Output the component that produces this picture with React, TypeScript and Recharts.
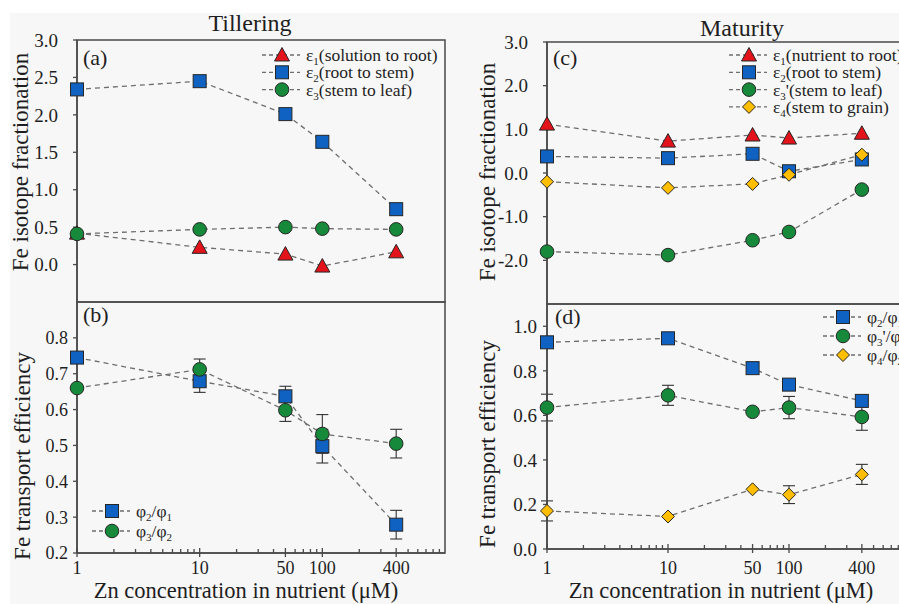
import React from "react";
import { ErrorBar, Line, LineChart, ReferenceArea, XAxis, YAxis } from "recharts";

const FONT = '"Liberation Serif", serif';
const AXIS = "#4a4a4a";
const DASH_LINE = "#6e6e6e";
const TEXT = "#1e1e1e";

const RED = "#e3131b";
const BLUE = "#0f62c2";
const GREEN = "#168a3a";
const YELLOW = "#ffbf00";

// Zn concentration levels (µM)
const znLevels = [1, 10, 50, 100, 400];
const xTickLabels = [1, 10, 50, 100, 400];
const xMinorTicks = [2, 3, 4, 5, 6, 7, 8, 9, 20, 30, 40, 60, 70, 80, 90, 200, 300, 500, 600, 700, 800, 900];

// (a) tillering, isotope fractionation
const tillerEps1 = [0.42, 0.23, 0.14, -0.02, 0.17];
const tillerEps2 = [2.34, 2.45, 2.01, 1.64, 0.74];
const tillerEps3 = [0.41, 0.47, 0.5, 0.48, 0.47];

// (b) tillering, transport efficiency
const tillerPhi21 = [0.745, 0.679, 0.637, 0.498, 0.279];
const tillerPhi21Err = [0, 0.031, 0.028, 0.047, 0.04];
const tillerPhi32 = [0.66, 0.712, 0.598, 0.532, 0.505];
const tillerPhi32Err = [0, 0.029, 0.031, 0.054, 0.04];

// (c) maturity, isotope fractionation
const matEps1 = [1.12, 0.73, 0.87, 0.8, 0.91];
const matEps2 = [0.38, 0.34, 0.44, 0.04, 0.31];
const matEps3 = [-1.8, -1.88, -1.54, -1.35, -0.38];
const matEps4 = [-0.2, -0.34, -0.25, -0.04, 0.42];

// (d) maturity, transport efficiency
const matPhi21 = [0.928, 0.946, 0.812, 0.738, 0.665];
const matPhi32 = [0.635, 0.69, 0.616, 0.635, 0.593];
const matPhi32Err = [0.06, 0.045, 0, 0.05, 0.06];
const matPhi42 = [0.171, 0.146, 0.268, 0.244, 0.335];
const matPhi42Err = [0.045, 0, 0, 0.04, 0.045];

const tickA = [0, 0.5, 1, 1.5, 2, 2.5, 3];
const tickB = [0.2, 0.3, 0.4, 0.5, 0.6, 0.7, 0.8];
const tickC = [-2, -1, 0, 1, 2, 3];
const tickD = [0, 0.2, 0.4, 0.6, 0.8, 1];

type Shape = "triangle" | "square" | "circle" | "diamond";

// label parts: even index = normal text, odd index = subscript
const legendA = [
  { shape: "triangle" as Shape, fill: RED, parts: ["ε", "1", "(solution to root)"] },
  { shape: "square" as Shape, fill: BLUE, parts: ["ε", "2", "(root to stem)"] },
  { shape: "circle" as Shape, fill: GREEN, parts: ["ε", "3", "(stem to leaf)"] }
];
const legendB = [
  { shape: "square" as Shape, fill: BLUE, parts: ["φ", "2", "/φ", "1"] },
  { shape: "circle" as Shape, fill: GREEN, parts: ["φ", "3", "/φ", "2"] }
];
const legendC = [
  { shape: "triangle" as Shape, fill: RED, parts: ["ε", "1", "(nutrient to root)"] },
  { shape: "square" as Shape, fill: BLUE, parts: ["ε", "2", "(root to stem)"] },
  { shape: "circle" as Shape, fill: GREEN, parts: ["ε", "3", "'(stem to leaf)"] },
  { shape: "diamond" as Shape, fill: YELLOW, parts: ["ε", "4", "(stem to grain)"] }
];
const legendD = [
  { shape: "square" as Shape, fill: BLUE, parts: ["φ", "2", "/φ", "1"] },
  { shape: "circle" as Shape, fill: GREEN, parts: ["φ", "3", "'/φ", "2"] },
  { shape: "diamond" as Shape, fill: YELLOW, parts: ["φ", "4", "/φ", "2"] }
];

const tillerRows = znLevels.map((zn, i) => ({
  zn,
  eps1: tillerEps1[i],
  eps2: tillerEps2[i],
  eps3: tillerEps3[i],
  phi21: tillerPhi21[i],
  phi21Err: tillerPhi21Err[i],
  phi32: tillerPhi32[i],
  phi32Err: tillerPhi32Err[i]
}));

const matRows = znLevels.map((zn, i) => ({
  zn,
  eps1: matEps1[i],
  eps2: matEps2[i],
  eps3: matEps3[i],
  eps4: matEps4[i],
  phi21: matPhi21[i],
  phi32: matPhi32[i],
  phi32Err: matPhi32Err[i],
  phi42: matPhi42[i],
  phi42Err: matPhi42Err[i]
}));

const Marker = ({ cx, cy, shape, fill }: { cx: number; cy: number; shape: Shape; fill: string }) => {
  const common = { fill, stroke: "#262626", strokeWidth: 1 };
  if (shape === "square") return <rect x={cx - 6.5} y={cy - 6.5} width={13} height={13} {...common} />;
  if (shape === "circle") return <circle cx={cx} cy={cy} r={6.8} {...common} />;
  if (shape === "triangle")
    return <polygon points={`${cx},${cy - 7.5} ${cx - 7.5},${cy + 6} ${cx + 7.5},${cy + 6}`} {...common} />;
  return <polygon points={`${cx},${cy - 6.5} ${cx + 6.5},${cy} ${cx},${cy + 6.5} ${cx - 6.5},${cy}`} {...common} />;
};

const dotFor = (shape: Shape, fill: string) => (props: any) => {
  if (props.cx == null || props.cy == null) return <g key={`e-${props.index}`} />;
  return (
    <g key={`${shape}-${props.index}`}>
      <Marker cx={props.cx} cy={props.cy} shape={shape} fill={fill} />
    </g>
  );
};

// log axis tick: labelled ticks cross the axis, minor ticks point inward
const LogTick = (props: any) => {
  const { x, y, payload, labelDy } = props;
  const v = payload.value;
  const labeled = xTickLabels.includes(v);
  return (
    <g>
      <line
        x1={x}
        x2={x}
        y1={labeled ? y + 4 : y}
        y2={labeled ? y - 5 : y - 4}
        stroke={AXIS}
        strokeWidth={1.3}
      />
      {labeled && (
        <text x={x} y={y + labelDy} textAnchor="middle" fill={TEXT} fontSize={18} fontFamily={FONT}>
          {v}
        </text>
      )}
    </g>
  );
};

const seriesLine = (key: string, shape: Shape, fill: string, errKey?: string) => (
  <Line
    key={key}
    dataKey={key}
    isAnimationActive={false}
    stroke={DASH_LINE}
    strokeWidth={1.3}
    strokeDasharray="5 4"
    type="linear"
    dot={dotFor(shape, fill)}
    activeDot={false}
  >
    {errKey && <ErrorBar dataKey={errKey} width={6} stroke="#333" strokeWidth={1.1} direction="y" />}
  </Line>
);

const yAxisProps = (domain: number[], ticks: number[], margin: number, size: number) => ({
  type: "number" as const,
  domain,
  ticks,
  interval: 0 as const,
  width: 50,
  tickSize: 4,
  tickMargin: margin,
  axisLine: { stroke: AXIS, strokeWidth: 1.5 },
  tickLine: { stroke: AXIS, strokeWidth: 1.3 },
  tick: { fill: TEXT, fontSize: size, fontFamily: FONT },
  tickFormatter: (v: number) => v.toFixed(1)
});

const xAxisProps = {
  dataKey: "zn",
  type: "number" as const,
  scale: "log" as const,
  domain: [1, 1000],
  ticks: [...xTickLabels, ...xMinorTicks],
  interval: 0 as const
};

const Sub = ({ parts }: { parts: string[] }) => (
  <>
    {parts.map((p, i) =>
      i % 2 === 1 ? (
        <tspan key={i} fontSize={11} dy={4}>
          {p}
        </tspan>
      ) : (
        <tspan key={i} dy={i === 0 ? 0 : -4}>
          {p}
        </tspan>
      )
    )}
  </>
);

const LegendBlock = ({
  x,
  y,
  gap,
  items
}: {
  x: number;
  y: number;
  gap: number;
  items: { shape: Shape; fill: string; parts: string[] }[];
}) => (
  <g>
    {items.map((it, i) => {
      const ry = y + i * gap;
      return (
        <g key={i}>
          <line x1={x} x2={x + 38} y1={ry} y2={ry} stroke={DASH_LINE} strokeWidth={1.3} strokeDasharray="4 3" />
          <Marker cx={x + 20} cy={ry} shape={it.shape} fill={it.fill} />
          <text x={x + 44} y={ry + 6} fill={TEXT} fontSize={17.5} fontFamily={FONT}>
            <Sub parts={it.parts} />
          </text>
        </g>
      );
    })}
  </g>
);

const VTitle = ({ x, y, text }: { x: number; y: number; text: string }) => (
  <text
    transform={`translate(${x},${y}) rotate(-90)`}
    textAnchor="middle"
    dominantBaseline="central"
    fill={TEXT}
    fontSize={23}
    fontFamily={FONT}
  >
    {text}
  </text>
);

const boxStroke = { fill: "none", stroke: AXIS, strokeWidth: 1.5, fillOpacity: 1 };

export default function App() {
  return (
    <div
      style={{
        position: "absolute",
        left: 0,
        top: 0,
        width: 899,
        height: 604,
        overflow: "hidden",
        background: "#ffffff",
        fontFamily: FONT
      }}
    >
      <div style={{ position: "absolute", left: 10, top: 13, width: 889, height: 591, background: "#f7f7f7" }} />

      {/* (a) */}
      <div style={{ position: "absolute", left: 0, top: 0 }}>
        <LineChart width={460} height={310} data={tillerRows} margin={{ top: 40, right: 15, bottom: 8, left: 27 }}>
          <XAxis {...xAxisProps} hide />
          <YAxis {...yAxisProps([-0.5, 3], tickA, 15, 19)} />
          <ReferenceArea x1={1} x2={1000} y1={-0.5} y2={3} {...boxStroke} />
          {seriesLine("eps1", "triangle", RED)}
          {seriesLine("eps2", "square", BLUE)}
          {seriesLine("eps3", "circle", GREEN)}
        </LineChart>
      </div>

      {/* (b) */}
      <div style={{ position: "absolute", left: 0, top: 290 }}>
        <LineChart width={460} height={300} data={tillerRows} margin={{ top: 12, right: 15, bottom: 7, left: 27 }}>
          <XAxis
            {...xAxisProps}
            height={30}
            tickSize={0}
            tickMargin={0}
            tickLine={false}
            axisLine={{ stroke: AXIS, strokeWidth: 1.5 }}
            tick={(p: any) => <LogTick {...p} labelDy={21} />}
          />
          <YAxis {...yAxisProps([0.2, 0.9], tickB, 5, 18)} />
          <ReferenceArea x1={1} x2={1000} y1={0.2} y2={0.9} {...boxStroke} />
          {seriesLine("phi21", "square", BLUE, "phi21Err")}
          {seriesLine("phi32", "circle", GREEN, "phi32Err")}
        </LineChart>
      </div>

      {/* (c) */}
      <div style={{ position: "absolute", left: 450, top: 0 }}>
        <LineChart width={480} height={312} data={matRows} margin={{ top: 42, right: 20, bottom: 8, left: 47 }}>
          <XAxis {...xAxisProps} hide />
          <YAxis {...yAxisProps([-3, 3], tickC, 15, 19)} />
          <ReferenceArea x1={1} x2={1000} y1={-3} y2={3} {...boxStroke} />
          {seriesLine("eps1", "triangle", RED)}
          {seriesLine("eps2", "square", BLUE)}
          {seriesLine("eps3", "circle", GREEN)}
          {seriesLine("eps4", "diamond", YELLOW)}
        </LineChart>
      </div>

      {/* (d) */}
      <div style={{ position: "absolute", left: 450, top: 290 }}>
        <LineChart width={480} height={300} data={matRows} margin={{ top: 14, right: 20, bottom: 11, left: 47 }}>
          <XAxis
            {...xAxisProps}
            height={30}
            tickSize={0}
            tickMargin={0}
            tickLine={false}
            axisLine={{ stroke: AXIS, strokeWidth: 1.5 }}
            tick={(p: any) => <LogTick {...p} labelDy={25} />}
          />
          <YAxis {...yAxisProps([0, 1.1], tickD, 6, 19)} />
          <ReferenceArea x1={1} x2={1000} y1={0} y2={1.1} {...boxStroke} />
          {seriesLine("phi21", "square", BLUE)}
          {seriesLine("phi32", "circle", GREEN, "phi32Err")}
          {seriesLine("phi42", "diamond", YELLOW, "phi42Err")}
        </LineChart>
      </div>

      <svg width={899} height={604} style={{ position: "absolute", left: 0, top: 0, pointerEvents: "none" }}>
        <text x={250} y={31} textAnchor="middle" fill={TEXT} fontSize={24} fontFamily={FONT}>
          Tillering
        </text>
        <text x={742} y={36} textAnchor="middle" fill={TEXT} fontSize={24} fontFamily={FONT}>
          Maturity
        </text>

        <VTitle x={20} y={162} text="Fe isotope fractionation" />
        <VTitle x={22} y={456} text="Fe transport efficiency" />
        <VTitle x={487} y={172} text="Fe isotope fractionation" />
        <VTitle x={487} y={444} text="Fe transport efficiency" />

        <text x={246} y={598} textAnchor="middle" fill={TEXT} fontSize={22.5} fontFamily={FONT}>
          Zn concentration in nutrient (μM)
        </text>
        <text x={721} y={598} textAnchor="middle" fill={TEXT} fontSize={22.5} fontFamily={FONT}>
          Zn concentration in nutrient (μM)
        </text>

        <text x={83} y={65} fill={TEXT} fontSize={22} fontFamily={FONT}>(a)</text>
        <text x={83} y={322} fill={TEXT} fontSize={22} fontFamily={FONT}>(b)</text>
        <text x={553} y={65} fill={TEXT} fontSize={22} fontFamily={FONT}>(c)</text>
        <text x={555} y={324} fill={TEXT} fontSize={22} fontFamily={FONT}>(d)</text>

        <LegendBlock x={262} y={55} gap={17.3} items={legendA} />
        <LegendBlock x={92} y={511} gap={20} items={legendB} />
        <LegendBlock x={729} y={55} gap={17.3} items={legendC} />
        <LegendBlock x={823} y={317} gap={19} items={legendD} />
      </svg>
    </div>
  );
}
